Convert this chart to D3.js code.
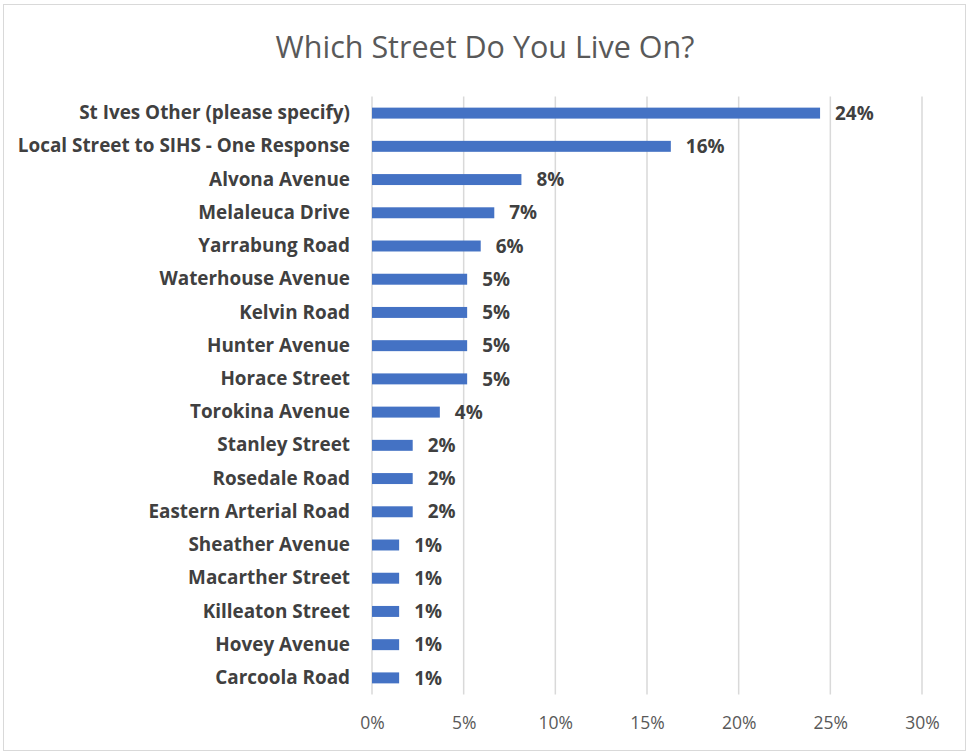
<!DOCTYPE html>
<html><head><meta charset="utf-8">
<script src="https://cdn.jsdelivr.net/npm/d3@7"></script>
<style>html,body{margin:0;padding:0;background:#fff;}</style>
</head><body>
<svg id="c" width="969" height="754"></svg>
<script>
const categories = ["St Ives Other (please specify)","Local Street to SIHS - One Response","Alvona Avenue","Melaleuca Drive","Yarrabung Road","Waterhouse Avenue","Kelvin Road","Hunter Avenue","Horace Street","Torokina Avenue","Stanley Street","Rosedale Road","Eastern Arterial Road","Sheather Avenue","Macarther Street","Killeaton Street","Hovey Avenue","Carcoola Road"];
const values = [24.44,16.30,8.15,6.67,5.93,5.19,5.19,5.19,5.19,3.70,2.22,2.22,2.22,1.48,1.48,1.48,1.48,1.48];
const xTicks = [0,5,10,15,20,25,30];
const title = "Which Street Do You Live On?";

const svg = d3.select("#c");
const font = "'Open Sans', sans-serif";
svg.append("rect").attr("x",3.5).attr("y",4.5).attr("width",962).attr("height",746)
  .attr("fill","#fff").attr("stroke","#d9d9d9").attr("stroke-width",1);

const x = d3.scaleLinear().domain([0,30]).range([372,922]);
const y = d3.scaleBand().domain(categories).range([96.5,694.5]).paddingInner(0.67).paddingOuter(0.335);

svg.append("text").attr("x",485).attr("y",58).attr("text-anchor","middle")
  .attr("font-family",font).attr("font-size",30.5).attr("fill","#595959").text(title);

const grid = svg.append("g");
grid.selectAll("line").data(xTicks).join("line")
  .attr("x1",d=>x(d)).attr("x2",d=>x(d)).attr("y1",96.5).attr("y2",694.5)
  .attr("stroke","#d9d9d9").attr("stroke-width",1.5);

const xAxis = svg.append("g").attr("transform","translate(0,694.5)")
  .call(d3.axisBottom(x).tickValues(xTicks).tickSize(0).tickPadding(22).tickFormat(d=>d+"%"));
xAxis.select(".domain").remove();
xAxis.selectAll("text").attr("font-family",font).attr("font-size",17.5).attr("fill","#595959");

svg.append("g").selectAll("rect").data(values).join("rect")
  .attr("x",x(0)).attr("y",(d,i)=>y(categories[i]))
  .attr("width",d=>x(d)-x(0)).attr("height",y.bandwidth()).attr("fill","#4472C4");

const yAxis = svg.append("g").attr("transform","translate(372,0)")
  .call(d3.axisLeft(y).tickSize(0).tickPadding(22));
yAxis.select(".domain").remove();
yAxis.selectAll("text").attr("font-family",font).attr("font-size",18.9).attr("font-weight","bold").attr("fill","#404040");

svg.append("g").selectAll("text").data(values).join("text")
  .attr("x",d=>x(d)+15).attr("y",(d,i)=>y(categories[i])+y.bandwidth()/2).attr("dy","0.35em")
  .attr("font-family",font).attr("font-size",18.9).attr("font-weight","bold").attr("fill","#404040")
  .text(d=>Math.round(d)+"%");
</script>
</body></html>
